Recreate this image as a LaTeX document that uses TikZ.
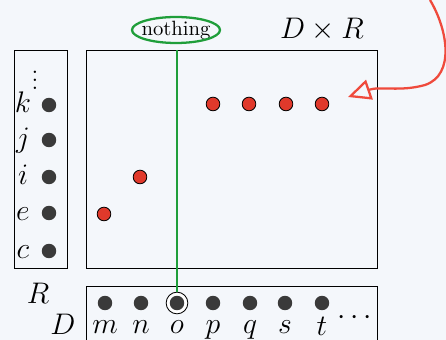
\documentclass[tikz,border=0pt]{standalone}
\usepackage{amsmath}
\usetikzlibrary{arrows.meta}

\definecolor{paper}{HTML}{F4F7FB}
\definecolor{dotgray}{HTML}{3A3A3A}
\definecolor{markred}{HTML}{EF4A3C}
\definecolor{markgreen}{HTML}{1F9E3A}
\definecolor{ptred}{HTML}{E0392B}

\begin{document}
\begin{tikzpicture}[x=0.017cm, y=-0.017cm, line width=0.4pt,
  elem/.style={circle, fill=dotgray, inner sep=0pt, minimum size=7pt},
  pair/.style={circle, draw=black, fill=ptred, inner sep=0pt, minimum size=6.6pt},
  lab/.style={anchor=base, font=\Large}]
  \fill[paper] (0,0) rectangle (446,340);
  \useasboundingbox (0,0) rectangle (446,340);

  % the frames
  \draw (14,50) rectangle (67,268);
  \draw (86,50) rectangle (377,268);
  \draw (86,340) -- (86,286) -- (377,286) -- (377,340);

  % R
  \node[elem] (k) at (49,105) {};
  \node[elem] (j) at (49,140) {};
  \node[elem] (i) at (49,177) {};
  \node[elem] (e) at (49,213) {};
  \node[elem] (c) at (49,251) {};
  \node[lab] (kl) at (23,113) {$k$};
  \node[lab] (jl) at (23,148) {$j$};
  \node[lab] (il) at (23,185) {$i$};
  \node[lab] (el) at (23,221) {$e$};
  \node[lab] (cl) at (23,259) {$c$};
  \node[font=\large] (rdots) at (35,74) {$\vdots$};

  % D
  \node[circle, draw, fill=white, inner sep=0pt, minimum size=10.5pt] (oring) at (177,303) {};
  \node[elem] (m) at (105,303) {};
  \node[elem] (n) at (141,303) {};
  \node[elem] (o) at (177,303) {};
  \node[elem] (p) at (213,303) {};
  \node[elem] (q) at (250,303) {};
  \node[elem] (s) at (285,303) {};
  \node[elem] (t) at (322,303) {};
  \node[lab] (ml) at (105,334) {$m$};
  \node[lab] (nl) at (141,334) {$n$};
  \node[lab] (ol) at (177,334) {$o$};
  \node[lab] (pl) at (213,334) {$p$};
  \node[lab] (ql) at (250,334) {$q$};
  \node[lab] (sl) at (285,334) {$s$};
  \node[lab] (tl) at (322,336) {$t$};
  \node[font=\Large] (ddots) at (357,318) {$\cdots$};

  \node[font=\Large] (Rl) at (38,293) {$R$};
  \node[font=\Large] (Dl) at (63,324) {$D$};
  \node[font=\Large] (prod) at (322,30) {$D\times R$};

  % pairs in D x R
  \node[pair] (me) at (104,214) {};
  \node[pair] (ni) at (140,177) {};
  \node[pair] (pk) at (213,104) {};
  \node[pair] (qk) at (249,104) {};
  \node[pair] (sk) at (286,104) {};
  \node[pair] (tk) at (322,104) {};

  % nothing above o
  \node (nothing) at (176,30) {nothing};
  \draw[markgreen, line width=1.1pt] (nothing.center) ellipse [x radius=44, y radius=13];
  \coordinate (gtop) at (177,50);
  \draw[markgreen, line width=0.8pt] (gtop) -- (oring);

  % arrow to the k row
  \coordinate (tail) at (430,0);
  \coordinate (head) at (348,97);
  \draw[markred, line width=1.1pt, -{Triangle[open, length=11pt, width=10pt]}]
    (tail) .. controls (448,30) and (455,75) .. (425,85)
    .. controls (400,92) and (380,86) .. (head);
\end{tikzpicture}
\end{document}
